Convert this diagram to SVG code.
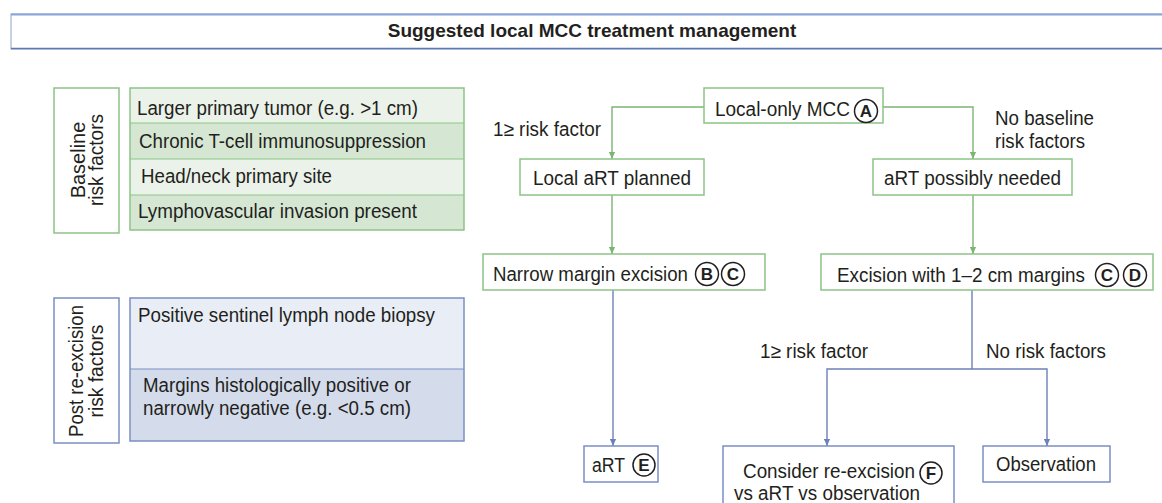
<svg xmlns="http://www.w3.org/2000/svg" width="1162" height="503" viewBox="0 0 1162 503">
<style>
text{font-family:"Liberation Sans",Arial,sans-serif;fill:#231f20}
.t{font-size:20px}
.title{font-size:19px;font-weight:bold}
.gbox{fill:#fff;stroke:#8dc386;stroke-width:1.5}
.bbox{fill:#fff;stroke:#7b8fc3;stroke-width:1.5}
.gl{fill:none;stroke:#7cb473;stroke-width:1.4}
.bl{fill:none;stroke:#6d80b8;stroke-width:1.4}
.circ{fill:#fff;stroke:#231f20;stroke-width:1.5}
.lt{font-size:17px;font-weight:bold;text-anchor:middle}
</style>
<defs>
<marker id="ag" viewBox="0 0 8 8" refX="8" refY="4" markerWidth="7" markerHeight="7" markerUnits="userSpaceOnUse" orient="auto"><path d="M0,0.5 L8,4 L0,7.5 Z" fill="#7cb473"/></marker>
<marker id="ab" viewBox="0 0 8 8" refX="8" refY="4" markerWidth="7" markerHeight="7" markerUnits="userSpaceOnUse" orient="auto"><path d="M0,0.5 L8,4 L0,7.5 Z" fill="#6d80b8"/></marker>
</defs>

<g id="title">
<rect x="11" y="14" width="1160" height="35" fill="#fff" stroke="#8fa3c9" stroke-width="1"/>
<line x1="11" y1="14.5" x2="1162" y2="14.5" stroke="#8aa6d8" stroke-width="2"/>
<line x1="11" y1="48.5" x2="1162" y2="48.5" stroke="#5a78b4" stroke-width="1.5"/>
<text class="title" x="592" y="37" text-anchor="middle">Suggested local MCC treatment management</text>
</g>

<g id="baseline-label">
<rect class="gbox" x="54" y="88" width="65" height="145"/>
<text class="t" transform="translate(85,160) rotate(-90)" text-anchor="middle">Baseline</text>
<text class="t" transform="translate(103,160) rotate(-90)" text-anchor="middle" textLength="92" lengthAdjust="spacingAndGlyphs">risk factors</text>
</g>
<g id="baseline-factors">
<rect x="130" y="88" width="334" height="35" fill="#ebf2e9"/>
<rect x="130" y="123" width="334" height="36" fill="#d5e7d3"/>
<rect x="130" y="159" width="334" height="36" fill="#ebf2e9"/>
<rect x="130" y="195" width="334" height="35" fill="#d5e7d3"/>
<g stroke="#8dc386" stroke-width="1.2"><line x1="130" y1="123" x2="464" y2="123"/><line x1="130" y1="159" x2="464" y2="159"/><line x1="130" y1="195" x2="464" y2="195"/></g>
<rect x="130" y="88" width="334" height="142" fill="none" stroke="#8dc386" stroke-width="1.5"/>
<text class="t" x="137" y="115" textLength="281" lengthAdjust="spacingAndGlyphs">Larger primary tumor (e.g. &gt;1 cm)</text>
<text class="t" x="139" y="148" textLength="287" lengthAdjust="spacingAndGlyphs">Chronic T-cell immunosuppression</text>
<text class="t" x="141" y="183" textLength="191" lengthAdjust="spacingAndGlyphs">Head/neck primary site</text>
<text class="t" x="138" y="218" textLength="279" lengthAdjust="spacingAndGlyphs">Lymphovascular invasion present</text>
</g>

<g id="post-label">
<rect class="bbox" x="54" y="298" width="65" height="145"/>
<text class="t" transform="translate(83,371) rotate(-90)" text-anchor="middle" textLength="132" lengthAdjust="spacingAndGlyphs">Post re-excision</text>
<text class="t" transform="translate(103,371) rotate(-90)" text-anchor="middle" textLength="93" lengthAdjust="spacingAndGlyphs">risk factors</text>
</g>
<g id="post-factors">
<rect x="130" y="298" width="334" height="71" fill="#e9eef6"/>
<rect x="130" y="369" width="334" height="72" fill="#d4dcec"/>
<line x1="130" y1="369" x2="464" y2="369" stroke="#7b8fc3" stroke-width="1.2"/>
<rect x="130" y="298" width="334" height="143" fill="none" stroke="#7b8fc3" stroke-width="1.5"/>
<text class="t" x="138" y="322" textLength="297" lengthAdjust="spacingAndGlyphs">Positive sentinel lymph node biopsy</text>
<text class="t" x="143" y="392" textLength="268" lengthAdjust="spacingAndGlyphs">Margins histologically positive or</text>
<text class="t" x="143" y="415" textLength="268" lengthAdjust="spacingAndGlyphs">narrowly negative (e.g. &lt;0.5 cm)</text>
</g>

<g id="connectors">
<path class="gl" d="M704,107 H612 V159" marker-end="url(#ag)"/>
<path class="gl" d="M883,107 H973 V159" marker-end="url(#ag)"/>
<path class="gl" d="M612,195 V254" marker-end="url(#ag)"/>
<path class="gl" d="M973,195 V254" marker-end="url(#ag)"/>
<path class="bl" d="M613,290 V446" marker-end="url(#ab)"/>
<path class="bl" d="M972,290 V369"/>
<path class="bl" d="M972,369 H827 V446" marker-end="url(#ab)"/>
<path class="bl" d="M972,369 H1047 V446" marker-end="url(#ab)"/>
<text class="t" x="493" y="136" textLength="108" lengthAdjust="spacingAndGlyphs">1≥ risk factor</text>
<text class="t" x="995" y="125" textLength="99" lengthAdjust="spacingAndGlyphs">No baseline</text>
<text class="t" x="995" y="148" textLength="90" lengthAdjust="spacingAndGlyphs">risk factors</text>
<text class="t" x="760" y="358" textLength="108" lengthAdjust="spacingAndGlyphs">1≥ risk factor</text>
<text class="t" x="986" y="358" textLength="120" lengthAdjust="spacingAndGlyphs">No risk factors</text>
</g>

<g id="local-only">
<rect class="gbox" x="704" y="88" width="179" height="35"/>
<text class="t" x="715" y="116" textLength="135" lengthAdjust="spacingAndGlyphs">Local-only MCC</text>
<circle class="circ" cx="866" cy="111" r="11.5"/><text class="lt" x="866" y="117">A</text>
</g>
<g id="local-art">
<rect class="gbox" x="520" y="159" width="184" height="36"/>
<text class="t" x="533" y="185" textLength="158" lengthAdjust="spacingAndGlyphs">Local aRT planned</text>
</g>
<g id="art-possibly">
<rect class="gbox" x="873" y="159" width="199" height="36"/>
<text class="t" x="884" y="185" textLength="177" lengthAdjust="spacingAndGlyphs">aRT possibly needed</text>
</g>
<g id="narrow">
<rect class="gbox" x="483" y="254" width="282" height="36"/>
<text class="t" x="493" y="281" textLength="195" lengthAdjust="spacingAndGlyphs">Narrow margin excision</text>
<circle class="circ" cx="707" cy="274" r="11.5"/><text class="lt" x="707" y="280">B</text>
<circle class="circ" cx="733" cy="274" r="11.5"/><text class="lt" x="733" y="280">C</text>
</g>
<g id="excision">
<rect class="gbox" x="821" y="254" width="332" height="36"/>
<text class="t" x="837" y="282" textLength="248" lengthAdjust="spacingAndGlyphs">Excision with 1–2 cm margins</text>
<circle class="circ" cx="1107" cy="275" r="11.5"/><text class="lt" x="1107" y="281">C</text>
<circle class="circ" cx="1135" cy="275" r="11.5"/><text class="lt" x="1135" y="281">D</text>
</g>
<g id="art">
<rect class="bbox" x="584" y="446" width="74" height="36"/>
<text class="t" x="592" y="472" textLength="33" lengthAdjust="spacingAndGlyphs">aRT</text>
<circle class="circ" cx="644" cy="465" r="11"/><text class="lt" x="644" y="471">E</text>
</g>
<g id="consider">
<rect class="bbox" x="723" y="446" width="231" height="62"/>
<text class="t" x="743" y="478" textLength="172" lengthAdjust="spacingAndGlyphs">Consider re-excision</text>
<circle class="circ" cx="931" cy="473" r="11"/><text class="lt" x="931" y="479">F</text>
<text class="t" x="734" y="500" textLength="186" lengthAdjust="spacingAndGlyphs">vs aRT vs observation</text>
</g>
<g id="observation">
<rect class="bbox" x="983" y="446" width="127" height="36"/>
<text class="t" x="996" y="471" textLength="100" lengthAdjust="spacingAndGlyphs">Observation</text>
</g>
</svg>
